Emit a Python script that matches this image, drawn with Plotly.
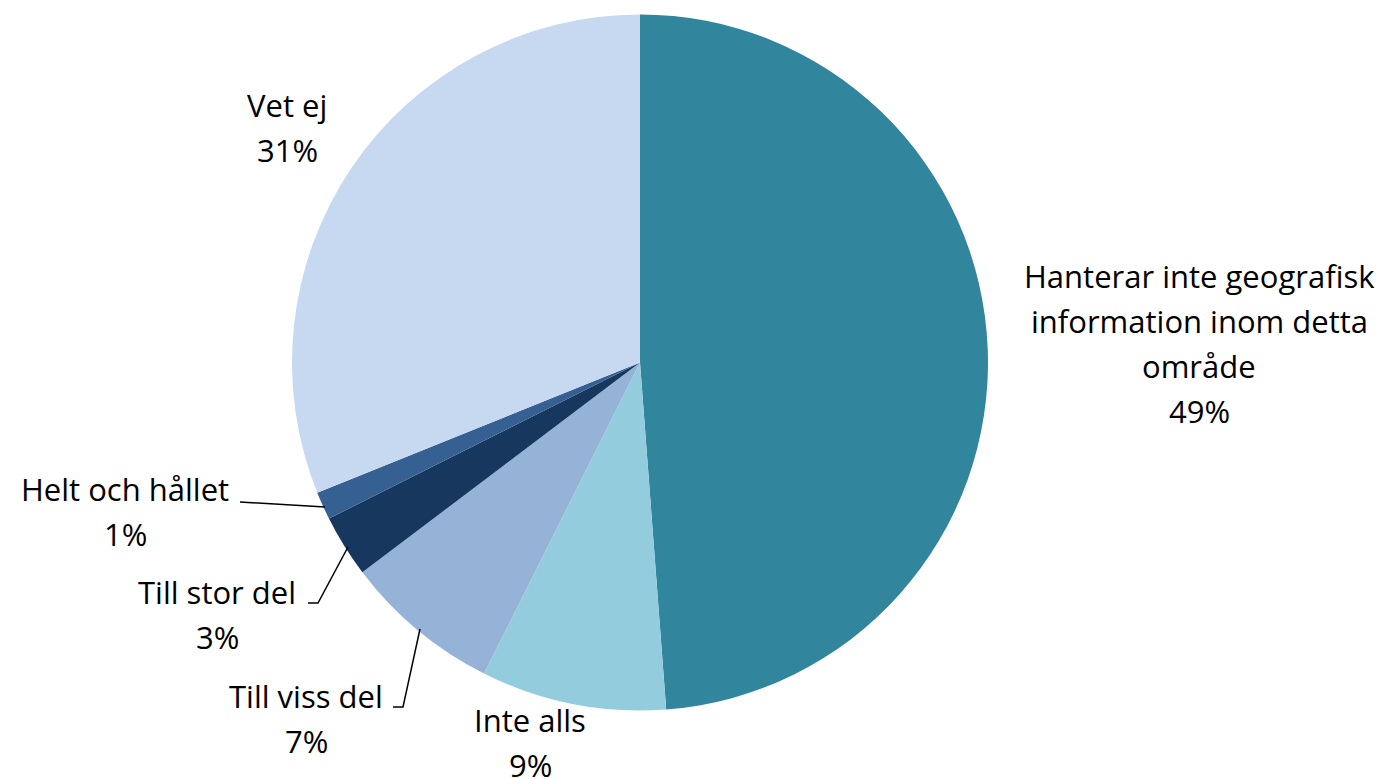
import plotly.graph_objects as go

# The page body has an 8px margin, so the figure is drawn 8px smaller and
# all reference pixel positions are shifted by OFF.
OFF = 8
W, H = 1386 - OFF, 779 - OFF

categories = ["Hanterar inte geografisk information inom detta område",
              "Inte alls", "Till viss del", "Till stor del", "Helt och hållet", "Vet ej"]
values = [48.8, 8.6, 7.3, 2.9, 1.3, 31.1]
colors = ["#31859C", "#93CDDD", "#95B3D7", "#17375E", "#376092", "#C6D9F1"]

label_lines = [
    ["Hanterar inte geografisk", "information inom detta", "område"],
    ["Inte alls"],
    ["Till viss del"],
    ["Till stor del"],
    ["Helt och hållet"],
    ["Vet ej"],
]
# label centre x and first baseline y (reference pixels)
label_pos = [(1199, 287), (530, 731), (306, 707), (217, 603), (125, 500), (287, 116)]
LINE_H = 45
FONT = "Open Sans"
FS = 31

cx, cy, r = 640 - OFF, 362.5 - OFF, 348


def px(x):
    return (x - OFF) / W


def py(y):
    return 1 - (y - OFF) / H


fig = go.Figure(go.Pie(
    labels=categories, values=values, sort=False, direction="clockwise", rotation=0,
    marker=dict(colors=colors, line=dict(width=0)),
    textinfo="none", hoverinfo="label+percent", showlegend=False,
    domain=dict(x=[(cx - r) / W, (cx + r) / W], y=[1 - (cy + r) / H, 1 - (cy - r) / H]),
))

total = sum(values)
annotations = []
for lines, (lx, ly), v in zip(label_lines, label_pos, values):
    pct = f"{round(v / total * 100)}%"
    for i, t in enumerate(lines + [pct]):
        base = ly + i * LINE_H
        annotations.append(dict(
            x=px(lx), y=py(base - 11), xref="paper", yref="paper",
            text=t, showarrow=False, xanchor="center", yanchor="middle",
            font=dict(family=FONT, size=FS, color="black"),
        ))

leaders = [
    [(240, 502), (325, 507)],
    [(308, 603), (318, 603), (348, 547)],
    [(393, 707), (403, 707), (420, 629)],
]
shapes = []
for pts in leaders:
    path = "M " + " L ".join(f"{px(x)},{py(y)}" for x, y in pts)
    shapes.append(dict(type="path", xref="paper", yref="paper", path=path,
                       line=dict(color="black", width=1.5)))

fig.update_layout(
    width=W, height=H, margin=dict(l=0, r=0, t=0, b=0),
    paper_bgcolor="white", plot_bgcolor="white",
    annotations=annotations, shapes=shapes,
)
fig.write_html("out.html")
